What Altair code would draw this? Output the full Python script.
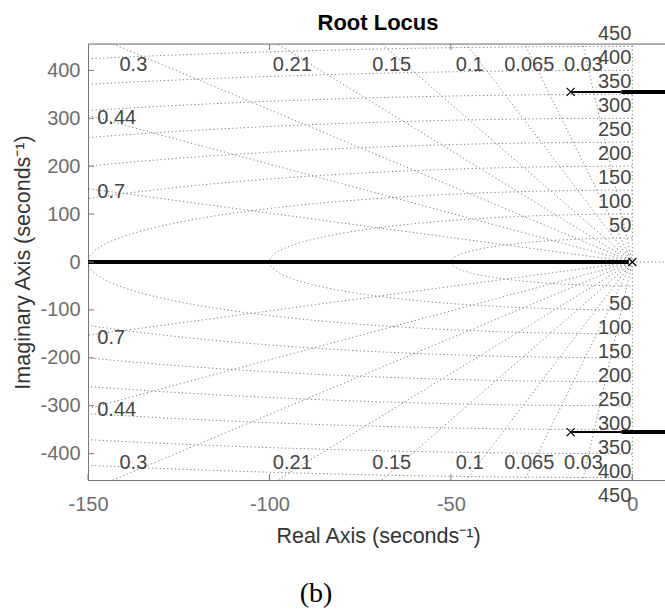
import altair as alt
import numpy as np
import pandas as pd

FONT = "Liberation Sans"

# ---------------- values ----------------
zeta = [0.03, 0.065, 0.1, 0.15, 0.21, 0.3, 0.44, 0.7]          # damping-ratio grid lines
wn = [50, 100, 150, 200, 250, 300, 350, 400, 450]              # natural-frequency grid circles
wn_text = ["50", "100", "150", "200", "250", "300", "350", "400", "450"]

zeta_text = ["0.3", "0.21", "0.15", "0.1", "0.065", "0.03", "0.44", "0.7"]
zeta_text_x = [-137.5, -93.7, -66.3, -44.8, -28.4, -13.5, -142.1, -143.6]
zeta_text_y_upper = [412, 412, 412, 412, 412, 412, 301, 147]
zeta_text_y_lower = [-420, -420, -420, -420, -420, -420, -308, -159]

pole_re = [0, -17, -17]
pole_im = [0, 355, -355]

branch_re_start = [-160, -17, -3, -17, -3]
branch_re_end = [-1, -3, 9, -3, 9]
branch_im = [0, 355, 355, -355, -355]
branch_width = [4, 2, 4, 2, 4]

xticks = [-150, -100, -50, 0]
yticks = [-400, -300, -200, -100, 0, 100, 200, 300, 400]
top_ticks = [-100, -50]

title_text = "Root Locus"
caption_text = "(b)"

W, H = 577, 436
xs = alt.Scale(domain=[-150, 9], nice=False, zero=False)
ys = alt.Scale(domain=[-455, 455], nice=False, zero=False)
GRID = "#7d7d7d"
DASH = [1.2, 2.6]
AXC = "#777777"

# ---------------- tables built from the arrays ----------------
ang = np.linspace(90, 270, 361)
circ = pd.DataFrame(
    [dict(r=r, t=t, x=r * np.cos(np.radians(t)), y=r * np.sin(np.radians(t)))
     for r in wn for t in ang]
)
rays = pd.DataFrame(
    [dict(z=z, s=s, x=0.0, y=0.0, x2=-1500 * z, y2=s * 1500 * np.sqrt(1 - z * z))
     for z in zeta for s in (1, -1)]
)
zlab = pd.DataFrame({
    "t": zeta_text + zeta_text,
    "x": zeta_text_x + zeta_text_x,
    "y": zeta_text_y_upper + zeta_text_y_lower,
})
wlab_up = pd.DataFrame({"t": wn_text, "y": wn, "x": [0] * len(wn)})
wlab_lo = pd.DataFrame({"t": wn_text, "y": [-v for v in wn], "x": [0] * len(wn)})
poles = pd.DataFrame({"x": pole_re, "y": pole_im})
branches = pd.DataFrame({"x": branch_re_start, "x2": branch_re_end,
                         "y": branch_im, "w": branch_width})

x_axis = alt.Axis(values=xticks, ticks=False, tickSize=0, grid=False, domain=True,
                  domainColor=AXC, domainWidth=1, labelFont=FONT, labelFontSize=20,
                  labelColor="#6e6e6e", labelPadding=14, labelFlush=False,
                  labelExpr="toString(datum.value)",
                  title="Real Axis (seconds⁻¹)", titleFont=FONT, titleFontSize=21.5,
                  titleFontWeight="normal", titleColor="#333333",
                  titleX=290, titleY=56, titleAlign="center", titleBaseline="middle")
y_axis = alt.Axis(values=yticks, ticks=False, tickSize=0, grid=False, domain=True,
                  domainColor=AXC, domainWidth=1, labelFont=FONT, labelFontSize=20,
                  labelColor="#6e6e6e", labelPadding=8, labelFlush=False,
                  labelExpr="toString(datum.value)",
                  title="Imaginary Axis (seconds⁻¹)", titleFont=FONT, titleFontSize=21.5,
                  titleFontWeight="normal", titleColor="#333333", titleAngle=270,
                  titleX=-65, titleY=H / 2, titleAlign="center", titleBaseline="middle")


def X(f):
    return alt.X(f, scale=xs, axis=x_axis)


def Y(f):
    return alt.Y(f, scale=ys, axis=y_axis)


circles = alt.Chart(circ).mark_line(color=GRID, strokeWidth=1, strokeDash=DASH, clip=True).encode(
    x=X("x:Q"), y=Y("y:Q"), detail="r:N", order="t:Q",
)
ray_layer = alt.Chart(rays).mark_rule(color=GRID, strokeWidth=1, strokeDash=DASH, clip=True).encode(
    x=X("x:Q"), x2="x2:Q", y=Y("y:Q"), y2="y2:Q",
)
imag_axis = alt.Chart(pd.DataFrame({"x": [0], "y": [-455], "y2": [455]})).mark_rule(
    color=GRID, strokeWidth=1, strokeDash=DASH).encode(
    x=X("x:Q"), y=Y("y:Q"), y2="y2:Q",
)
real_right = alt.Chart(pd.DataFrame({"x": [0], "x2": [9], "y": [0]})).mark_rule(
    color=GRID, strokeWidth=1, strokeDash=DASH).encode(
    x=X("x:Q"), x2="x2:Q", y=Y("y:Q"),
)
locus = alt.Chart(branches).mark_rule(color="black", clip=True).encode(
    x=X("x:Q"), x2="x2:Q", y=Y("y:Q"),
    strokeWidth=alt.StrokeWidth("w:Q", scale=None),
)
pole_layer = alt.Chart(poles).mark_point(
    shape="M-1,-1L1,1M-1,1L1,-1", size=64, color="black", strokeWidth=1.2, filled=False,
    opacity=1).encode(x=X("x:Q"), y=Y("y:Q"))
zeta_labels = alt.Chart(zlab).mark_text(
    font=FONT, fontSize=20, color="#454545", align="center", baseline="middle").encode(
    x=X("x:Q"), y=Y("y:Q"), text="t:N",
)
wn_up = alt.Chart(wlab_up).mark_text(
    font=FONT, fontSize=20, color="#454545", align="right", baseline="middle", dx=-1, dy=-12.5).encode(
    x=X("x:Q"), y=Y("y:Q"), text="t:N",
)
wn_lo = alt.Chart(wlab_lo).mark_text(
    font=FONT, fontSize=20, color="#454545", align="right", baseline="middle", dx=-1, dy=18.5).encode(
    x=X("x:Q"), y=Y("y:Q"), text="t:N",
)
xt_bottom = alt.Chart(pd.DataFrame({"x": xticks})).mark_rule(color=AXC).encode(
    x=X("x:Q"), y=alt.value(H), y2=alt.value(H - 6))
xt_top = alt.Chart(pd.DataFrame({"x": top_ticks})).mark_rule(color=AXC).encode(
    x=X("x:Q"), y=alt.value(0), y2=alt.value(6))
yt_left = alt.Chart(pd.DataFrame({"y": yticks})).mark_rule(color=AXC).encode(
    y=Y("y:Q"), x=alt.value(0), x2=alt.value(6))
top_line = alt.Chart(pd.DataFrame({"a": [0]})).mark_rule(color=AXC, strokeWidth=1).encode(
    x=alt.value(0), x2=alt.value(W), y=alt.value(0))
title_layer = alt.Chart(pd.DataFrame({"c": [title_text]})).mark_text(
    font=FONT, fontSize=22, fontWeight="bold", color="black", align="center",
    baseline="middle").encode(x=alt.value(290), y=alt.value(-21), text="c:N")
caption = alt.Chart(pd.DataFrame({"c": [caption_text]})).mark_text(
    font="Liberation Serif", fontSize=28, color="black", align="center", baseline="middle").encode(
    x=alt.value(228), y=alt.value(550), text="c:N")

chart = alt.layer(
    circles, ray_layer, imag_axis, real_right, locus, pole_layer,
    zeta_labels, wn_up, wn_lo, xt_bottom, xt_top, yt_left, top_line, title_layer, caption,
).properties(
    width=W, height=H,
    autosize=alt.AutoSizeParams(type="none"),
    padding={"left": 88, "top": 44, "right": 0, "bottom": 130},
).configure_view(stroke=None).configure(background="white")

chart.save("out.html", embed_options={"renderer": "svg", "actions": False})
